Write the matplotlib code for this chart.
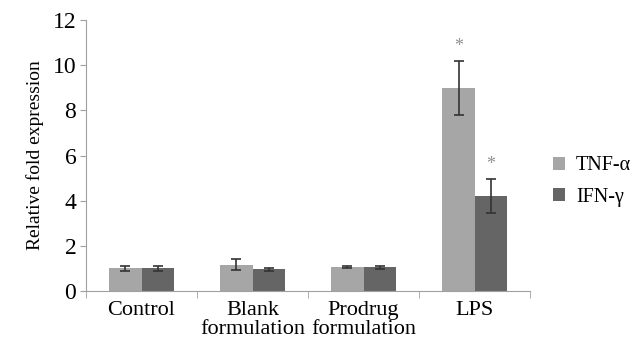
import numpy as np
import matplotlib.pyplot as plt

plt.rcParams['font.family'] = ['Liberation Serif', 'DejaVu Serif']

groups = ['Control', 'Blank\nformulation', 'Prodrug\nformulation', 'LPS']
tnf = [1.0, 1.17, 1.05, 9.0]
tnf_err = [0.12, 0.25, 0.05, 1.2]
ifn = [1.0, 0.97, 1.05, 4.22]
ifn_err = [0.12, 0.07, 0.07, 0.75]
stars = [False, False, False, True]

fig = plt.figure(figsize=(6.39, 3.45), dpi=100)
ax = fig.add_axes([0.1346, 0.1565, 0.695, 0.7855])

x = np.arange(len(groups))
w = 0.29
axis_col = '#a0a0a0'
ek = dict(ecolor='#333333', capsize=3.5, elinewidth=1.2, capthick=1.2)

b1 = ax.bar(x - w/2, tnf, w, yerr=tnf_err, color='#a6a6a6', label='TNF-α', error_kw=ek)
b2 = ax.bar(x + w/2, ifn, w, yerr=ifn_err, color='#656565', label='IFN-γ', error_kw=ek)

# significance marks above the LPS bars
for i in range(len(groups)):
    if stars[i]:
        ax.text(x[i] - w/2, tnf[i] + tnf_err[i] + 0.25, '*', ha='center', va='bottom',
                fontsize=13, color='#909090')
        ax.text(x[i] + w/2, ifn[i] + ifn_err[i] + 0.25, '*', ha='center', va='bottom',
                fontsize=13, color='#909090')

ax.set_xlim(-0.5, 3.5)
ax.set_ylim(0, 12)
ax.set_yticks(range(0, 13, 2))
ax.tick_params(axis='y', labelsize=17, length=4, color=axis_col, pad=3)
ax.set_xticks(x)
ax.set_xticklabels(groups, fontsize=16, linespacing=1.05)
ax.tick_params(axis='x', length=0, pad=7)
ax.set_xticks(np.arange(-0.5, 3.6, 1), minor=True)
ax.tick_params(axis='x', which='minor', length=5, color=axis_col)

for s in ['top', 'right']:
    ax.spines[s].set_visible(False)
for s in ['left', 'bottom']:
    ax.spines[s].set_color(axis_col)

ax.set_ylabel('Relative fold expression', fontsize=14, labelpad=6)

fig.legend(handles=[b1, b2], loc='center left', bbox_to_anchor=(0.865, 0.474),
           frameon=False, fontsize=14.5, borderpad=0, borderaxespad=0,
           handlelength=0.6, handleheight=0.6, handletextpad=0.55, labelspacing=0.6)

fig.savefig('out.png', dpi=100)
